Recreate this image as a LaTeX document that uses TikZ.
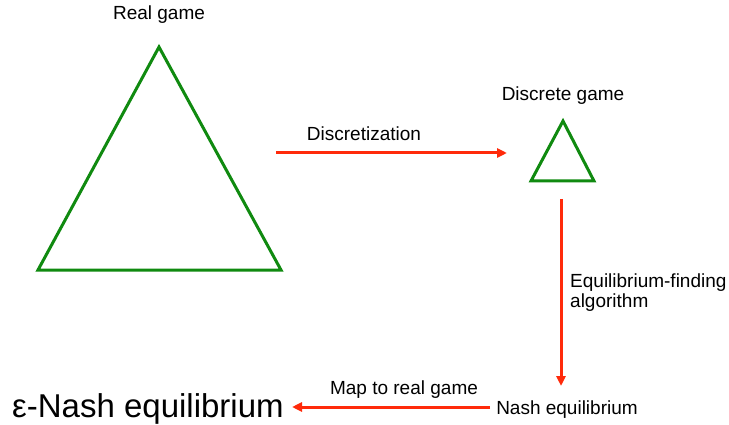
\documentclass[tikz,border=0pt]{standalone}
\usepackage{fontspec}
\setmainfont{Liberation Sans}
\usetikzlibrary{arrows.meta,positioning}
\definecolor{flow}{HTML}{FF2A0A}
\definecolor{tri}{HTML}{108A10}
\tikzset{
  game/.style={draw=tri, line width=3pt, line join=miter},
  fl/.style={-{Triangle[length=10pt,width=9pt]}, draw=flow, line width=3pt},
  lbl/.style={font=\fontsize{19}{20}\selectfont, inner sep=0pt},
  big/.style={font=\fontsize{33}{36}\selectfont, inner sep=0pt}
}

\begin{document}
\begin{tikzpicture}[x=1pt, y=-1pt]
  \useasboundingbox (0,0) rectangle (729,425);
  % the two games
  \draw[game] (159,47) -- (281,270) -- (38,270) -- cycle;
  \node[lbl] (real) at (159,15) {Real game};
  \draw[game] (563,121) -- (594,181) -- (531,181) -- cycle;
  \node[lbl] (disc) at (563,96) {Discrete game};
  % arrow ends
  \coordinate (d0) at (276,153);
  \coordinate (d1) at (507,153);
  \coordinate (a0) at (561,199);
  \coordinate (a1) at (561,386);
  \coordinate (m0) at (490,407);
  \coordinate (m1) at (292,407);
  % labels
  \node[lbl] (dlab) at (364,134) {Discretization};
  \node[lbl, anchor=west, align=left] (alab) at (570,293) {Equilibrium-finding\\algorithm};
  \node[lbl, anchor=base] (nash) at (567,414) {Nash equilibrium};
  \node[lbl] (mlab) at (404,390) {Map to real game};
  \node[big, anchor=base west] (eps) at (12,417) {ε-Nash equilibrium};
  \draw[fl] (d0) -- (d1);
  \draw[fl] (a0) -- (a1);
  \draw[fl] (m0) -- (m1);
\end{tikzpicture}
\end{document}
